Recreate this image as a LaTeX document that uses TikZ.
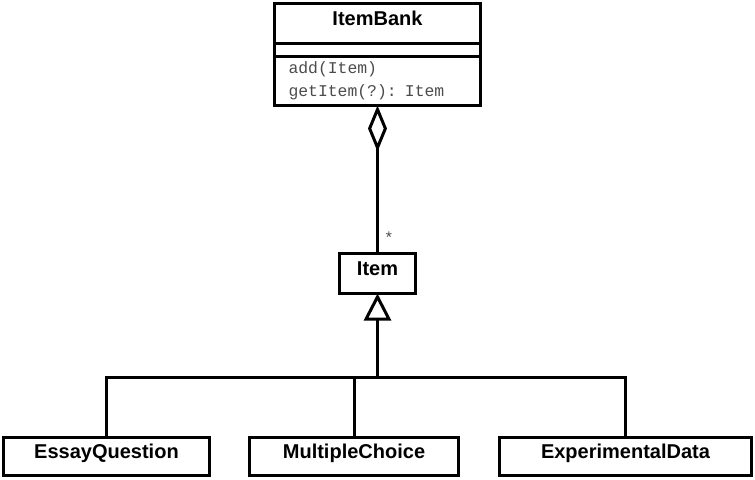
\documentclass[tikz,border=0pt]{standalone}
\usepackage{fontspec}
\setmainfont{Liberation Sans}
\setmonofont{Liberation Mono}
\usetikzlibrary{arrows.meta, positioning}

\tikzset{
	box/.style = {draw, line width = 1.5pt, outer sep = 0pt, inner sep = 0pt},
	cls/.style = {box, font = \bfseries\fontsize{10}{12}\selectfont,
		text height = 7pt, text depth = 5pt},
	ops/.style = {box, align = left, inner xsep = 7pt,
		font = \ttfamily\fontsize{8.2}{11.5}\selectfont, text = black!70},
	link/.style = {line width = 1.5pt}
}

\begin{document}
\begin{tikzpicture}[x = 0.5pt, y = -0.5pt]

	\useasboundingbox (0, 0) rectangle (755, 479);

	% The item bank

	\node [cls, minimum width = 103pt, minimum height = 19.75pt] (bank) at (377.5, 23.25) {ItemBank};
	\node [box, minimum width = 103pt, minimum height = 6.5pt, below = 0pt of bank] (attrs) {};
	\node [ops, text width = 89pt, minimum height = 24.75pt, below = 0pt of attrs] (methods)
		{add(Item)\\getItem(?): Item};

	% The items

	\node [cls, minimum width = 38pt, minimum height = 20pt] (item) at (377.5, 273.5) {Item};

	\node [cls, minimum width = 103pt, minimum height = 19pt] (essay) at (106.5, 456.5) {EssayQuestion};
	\node [cls, minimum width = 104.5pt, minimum height = 19pt] (choice) at (354, 456.5) {MultipleChoice};
	\node [cls, minimum width = 126pt, minimum height = 19pt] (data) at (625.5, 456.5) {ExperimentalData};

	\coordinate (bus) at (377.5, 377);

	% Connectors

	\begin{scope}[link]

		\draw [-{Diamond[open, length = 23pt, width = 9.5pt]}] (item.north) --
			node [pos = 0.11, right = 2.5pt, inner sep = 0pt, font = \ttfamily\fontsize{8}{9}\selectfont, text = black!70] (many) {*}
			(methods.south);

		\draw (essay.north) |- (bus);
		\draw (choice.north) |- (bus);
		\draw (data.north) |- (bus);
		\draw [-{Triangle[open, length = 13.5pt, width = 13.5pt]}] (bus) -- (item.south);

	\end{scope}

\end{tikzpicture}
\end{document}
